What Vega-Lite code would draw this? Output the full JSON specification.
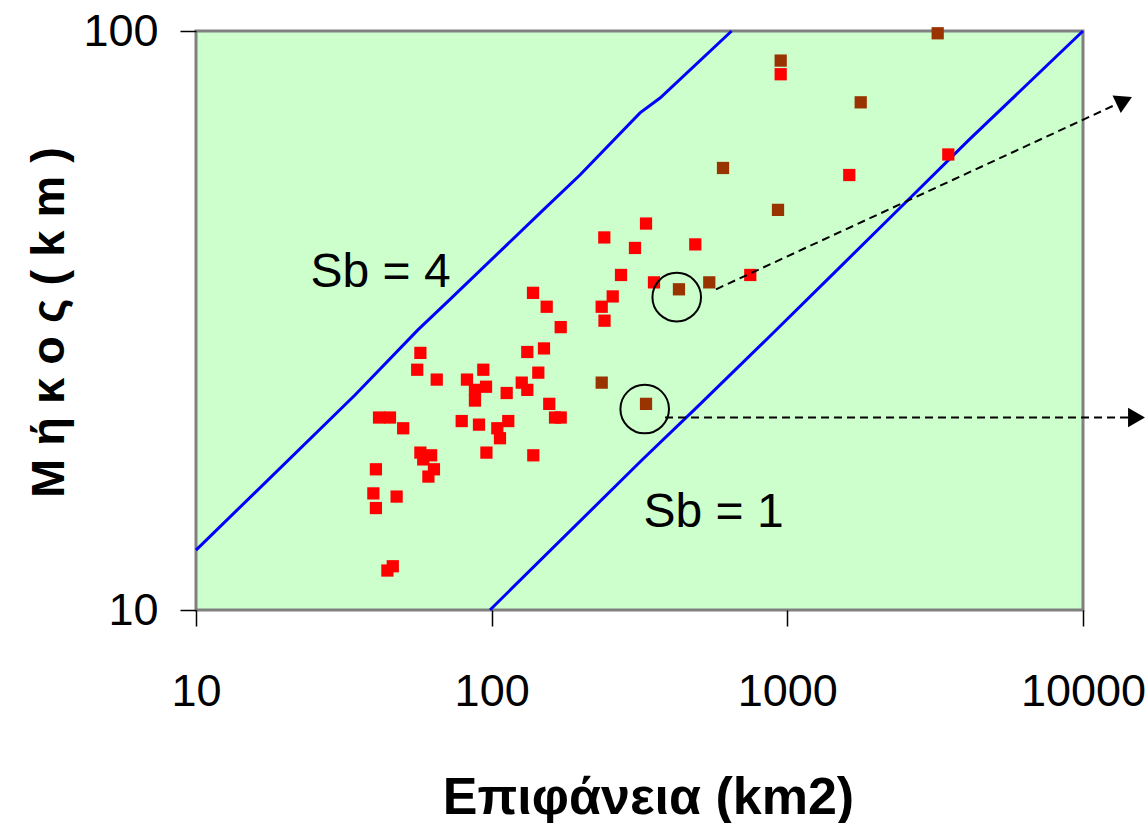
{
  "$schema": "https://vega.github.io/schema/vega-lite/v6.json",
  "width": 887,
  "height": 579,
  "autosize": {"type": "none"},
  "padding": {"left": 196, "top": 31, "right": 62, "bottom": 213},
  "background": "white",
  "datasets": {
    "pts": [
      {"A": 57.4, "L": 27.8, "g": "r"}, {"A": 56.0, "L": 26.0, "g": "r"}, {"A": 65.2, "L": 25.0, "g": "r"},
      {"A": 132, "L": 27.9, "g": "r"}, {"A": 150.3, "L": 28.3, "g": "r"}, {"A": 93.7, "L": 26.0, "g": "r"},
      {"A": 82.5, "L": 25.0, "g": "r"}, {"A": 95.7, "L": 24.3, "g": "r"}, {"A": 87.8, "L": 24.0, "g": "r"},
      {"A": 87.8, "L": 23.0, "g": "r"}, {"A": 112.4, "L": 23.7, "g": "r"}, {"A": 143.8, "L": 25.7, "g": "r"},
      {"A": 126.4, "L": 24.7, "g": "r"}, {"A": 132, "L": 24.0, "g": "r"}, {"A": 156.6, "L": 22.7, "g": "r"},
      {"A": 163.8, "L": 21.5, "g": "r"}, {"A": 171.2, "L": 21.5, "g": "r"}, {"A": 41.6, "L": 21.5, "g": "r"},
      {"A": 45.3, "L": 21.5, "g": "r"}, {"A": 50.2, "L": 20.6, "g": "r"}, {"A": 79.2, "L": 21.2, "g": "r"},
      {"A": 90.6, "L": 20.9, "g": "r"}, {"A": 104.5, "L": 20.6, "g": "r"}, {"A": 113.8, "L": 21.2, "g": "r"},
      {"A": 106.7, "L": 19.8, "g": "r"}, {"A": 96.0, "L": 18.7, "g": "r"}, {"A": 138.3, "L": 18.5, "g": "r"},
      {"A": 57.4, "L": 18.7, "g": "r"}, {"A": 62.4, "L": 18.5, "g": "r"}, {"A": 58.7, "L": 18.2, "g": "r"},
      {"A": 63.8, "L": 17.5, "g": "r"}, {"A": 61.1, "L": 17.0, "g": "r"}, {"A": 40.6, "L": 17.5, "g": "r"},
      {"A": 39.8, "L": 15.9, "g": "r"}, {"A": 40.6, "L": 15.0, "g": "r"}, {"A": 47.7, "L": 15.7, "g": "r"},
      {"A": 46.3, "L": 11.9, "g": "r"}, {"A": 44.4, "L": 11.7, "g": "r"}, {"A": 240.4, "L": 44.0, "g": "r"},
      {"A": 332.7, "L": 46.5, "g": "r"}, {"A": 305.3, "L": 42.2, "g": "r"}, {"A": 488.3, "L": 42.8, "g": "r"},
      {"A": 273.8, "L": 37.9, "g": "r"}, {"A": 354, "L": 36.8, "g": "r"}, {"A": 138, "L": 35.3, "g": "r"},
      {"A": 153.5, "L": 33.4, "g": "r"}, {"A": 256.7, "L": 34.8, "g": "r"}, {"A": 235.6, "L": 33.4, "g": "r"},
      {"A": 240.8, "L": 31.6, "g": "r"}, {"A": 171.2, "L": 30.8, "g": "r"}, {"A": 949.5, "L": 84.2, "g": "r"},
      {"A": 749.3, "L": 37.9, "g": "r"}, {"A": 3503, "L": 61.2, "g": "r"}, {"A": 1620, "L": 56.4, "g": "r"},
      {"A": 430, "L": 35.8, "g": "b"}, {"A": 544.5, "L": 36.8, "g": "b"}, {"A": 235.6, "L": 24.7, "g": "b"},
      {"A": 332.7, "L": 22.7, "g": "b"}, {"A": 949.5, "L": 88.9, "g": "b"}, {"A": 606, "L": 58.0, "g": "b"},
      {"A": 930, "L": 49.1, "g": "b"}, {"A": 1771, "L": 75.3, "g": "b"}, {"A": 3225, "L": 99.1, "g": "b"}
    ],
    "lines": [
      {"A": 10, "L": 12.69, "s": "4"}, {"A": 34.5, "L": 23.51, "s": "4"}, {"A": 56.3, "L": 30.46, "s": "4"},
      {"A": 72.3, "L": 34.4, "s": "4"}, {"A": 149.5, "L": 49.1, "s": "4"}, {"A": 198.9, "L": 56.4, "s": "4"},
      {"A": 317.5, "L": 72.2, "s": "4"}, {"A": 371, "L": 76.6, "s": "4"}, {"A": 648, "L": 100, "s": "4"},
      {"A": 98.7, "L": 10, "s": "1"}, {"A": 322.4, "L": 18.16, "s": "1"}, {"A": 495, "L": 22.41, "s": "1"},
      {"A": 853.5, "L": 29.38, "s": "1"}, {"A": 1507, "L": 39.11, "s": "1"}, {"A": 2540, "L": 50.86, "s": "1"},
      {"A": 4147, "L": 65.1, "s": "1"}, {"A": 10000, "L": 100, "s": "1"}
    ],
    "dash": [
      {"A": 573.8, "L": 35.8, "id": "a"}, {"A": 13795, "L": 75.8, "id": "a"},
      {"A": 385.8, "L": 21.5, "id": "b"}, {"A": 15170, "L": 21.5, "id": "b"}
    ],
    "heads": [
      {"A": 13795, "L": 75.8, "ang": 335},
      {"A": 15170, "L": 21.5, "ang": 0}
    ],
    "rings": [
      {"A": 422.6, "L": 34.7},
      {"A": 329.3, "L": 22.24}
    ],
    "labels": [
      {"A": 42.1, "L": 36.1, "t": "Sb = 4"},
      {"A": 562.8, "L": 13.91, "t": "Sb = 1"}
    ]
  },
  "encoding": {
    "x": {
      "field": "A", "type": "quantitative",
      "scale": {"type": "log", "domain": [10, 10000], "nice": false},
      "axis": {
        "values": [10, 100, 1000, 10000], "format": "d",
        "title": "Επιφάνεια (km2)", "titleFontSize": 52,
        "titleX": 452, "titleY": 203, "titleBaseline": "alphabetic", "titleAlign": "center",
        "labelPadding": 43
      }
    },
    "y": {
      "field": "L", "type": "quantitative",
      "scale": {"type": "log", "domain": [10, 100], "nice": false},
      "axis": {
        "values": [10, 100], "format": "d",
        "title": "Μ ή κ ο ς  ( k m )", "titleFontSize": 47,
        "titleAngle": 270, "titleX": -133, "titleY": 291,
        "titleBaseline": "alphabetic", "titleAlign": "center",
        "labelPadding": 22
      }
    }
  },
  "layer": [
    {
      "data": {"name": "lines"},
      "mark": {"type": "line", "color": "#0000FF", "strokeWidth": 3},
      "encoding": {"detail": {"field": "s"}}
    },
    {
      "data": {"name": "pts"},
      "mark": {"type": "point", "shape": "square", "filled": true, "size": 150, "opacity": 1},
      "encoding": {
        "color": {"field": "g", "type": "nominal", "scale": {"domain": ["r", "b"], "range": ["#FF0000", "#993300"]}, "legend": null}
      }
    },
    {
      "data": {"name": "rings"},
      "mark": {"type": "point", "shape": "circle", "filled": false, "size": 2360, "stroke": "black", "strokeWidth": 2, "opacity": 1}
    },
    {
      "data": {"name": "dash"},
      "mark": {"type": "line", "color": "black", "strokeWidth": 2, "strokeDash": [8, 5]},
      "encoding": {"detail": {"field": "id"}}
    },
    {
      "data": {"name": "heads"},
      "mark": {"type": "point", "shape": "triangle-right", "filled": true, "size": 380, "color": "black", "opacity": 1},
      "encoding": {"angle": {"field": "ang", "type": "quantitative", "scale": null}}
    },
    {
      "data": {"name": "labels"},
      "mark": {"type": "text", "font": "Liberation Sans", "fontSize": 48, "color": "black", "align": "center", "baseline": "alphabetic"},
      "encoding": {"text": {"field": "t"}}
    }
  ],
  "config": {
    "view": {"fill": "#CCFFCC", "stroke": "#808080", "strokeWidth": 3},
    "axis": {
      "domain": false, "grid": false,
      "ticks": true, "tickColor": "black", "tickWidth": 1.5, "tickSize": 16,
      "labelFont": "Liberation Sans", "labelFontSize": 45, "labelColor": "black",
      "labelFlush": false, "labelOverlap": false,
      "titleFont": "Liberation Sans", "titleFontWeight": "bold", "titleColor": "black"
    }
  }
}
